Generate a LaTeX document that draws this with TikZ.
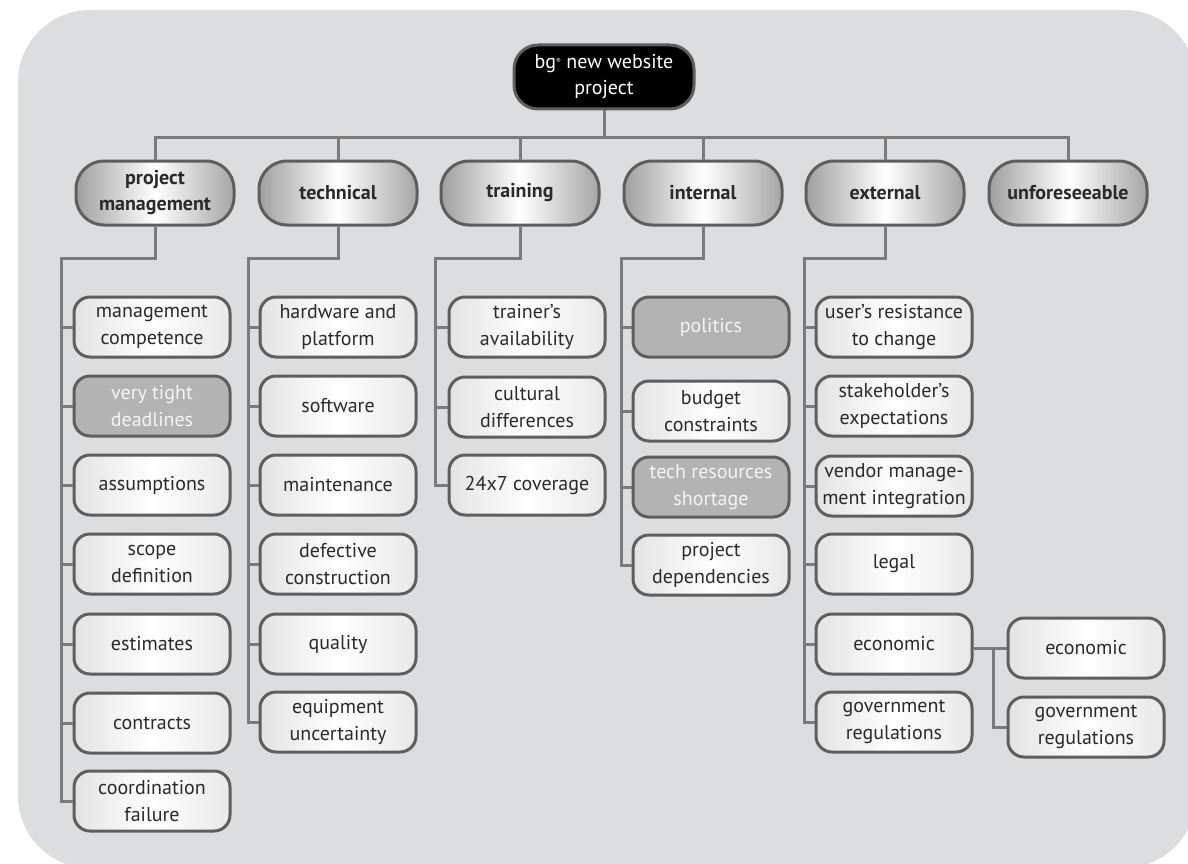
\documentclass[tikz,border=0pt]{standalone}
\usepackage{fontspec}
\setmainfont{PT Sans}
\begin{document}
\begin{tikzpicture}[x=1pt,y=-1pt,
  conn/.style={draw=linegray,line width=3pt},
  rootbox/.style={draw=rimgray,line width=3pt,fill=black,text=white,
    rounded corners=24pt,minimum width=180pt,minimum height=64pt,
    align=center,inner sep=2pt,font=\fontsize{20}{26}\selectfont},
  catbox/.style={draw=rimgray,line width=3pt,rounded corners=28pt,
    left color=gray!75,right color=gray!70,middle color=white,
    minimum width=158pt,minimum height=64pt,align=center,inner sep=2pt,
    text=txtgray,font=\bfseries\fontsize{20}{26}\selectfont},
  itembox/.style={draw=rimgray,line width=3pt,rounded corners=16pt,
    left color=gray!22,right color=gray!18,middle color=white,
    minimum width=156pt,minimum height=60pt,align=center,inner sep=1pt,
    text=txtgray,font=\fontsize{20}{27}\selectfont},
  greybox/.style={itembox,left color=boxgray,right color=boxgray,
    middle color=boxgray,text=white!92!gray},
]
\definecolor{linegray}{HTML}{7A7A7A}
\definecolor{rimgray}{HTML}{5E5E5E}
\definecolor{txtgray}{HTML}{2A2A2A}
\definecolor{boxgray}{HTML}{B3B3B3}
\definecolor{panel}{HTML}{DCDDDF}

% page and panel
\useasboundingbox (0,0) rectangle (1188,864);
\fill[white] (0,0) rectangle (1188,864);
\fill[panel,rounded corners=72pt] (18,10) rectangle (1196,868);

% root and category level
\node[rootbox] (root) at (604,77) {bg\raisebox{0.55ex}{\scriptsize ®} new website\\project};

\node[catbox] (pm)  at (155,193) {project\\management};
\node[catbox] (tec) at (338,193) {technical};
\node[catbox] (trn) at (520,193) {training};
\node[catbox] (int) at (703,193) {internal};
\node[catbox] (ext) at (885,193) {external};
\node[catbox] (unf) at (1068,193) {unforeseeable};

\coordinate (bus) at (0,138);
\draw[conn] (pm.north) |- (bus -| unf.north) -- (unf.north);
\foreach \n in {root.south,tec.north,trn.north,int.north,ext.north}
  \draw[conn] (\n) -- (\n |- bus);

% project management
\node[itembox]  (pm1) at (152,327) {management\\competence};
\node[greybox]  (pm2) at (152,406) {very tight\\deadlines};
\node[itembox]  (pm3) at (152,485) {assumptions};
\node[itembox]  (pm4) at (152,564) {scope\\definition};
\node[itembox]  (pm5) at (152,644) {estimates};
\node[itembox]  (pm6) at (152,723) {contracts};
\node[itembox]  (pm7) at (152,801) {coordination\\failure};
\coordinate (pmc) at (61,258);
\draw[conn] (pm.south) |- (pmc) |- (pm7.west);
\foreach \n in {pm1,pm2,pm3,pm4,pm5,pm6}
  \draw[conn] (pmc |- \n.west) -- (\n.west);

% technical
\node[itembox] (te1) at (338,327) {hardware and\\platform};
\node[itembox] (te2) at (338,406) {software};
\node[itembox] (te3) at (338,485) {maintenance};
\node[itembox] (te4) at (338,564) {defective\\construction};
\node[itembox] (te5) at (338,644) {quality};
\node[itembox] (te6) at (338,722) {equipment\\uncertainty};
\coordinate (tec0) at (248,258);
\draw[conn] (tec.south) |- (tec0) |- (te6.west);
\foreach \n in {te1,te2,te3,te4,te5}
  \draw[conn] (tec0 |- \n.west) -- (\n.west);

% training
\node[itembox] (tr1) at (527,327) {trainer’s\\availability};
\node[itembox] (tr2) at (527,407) {cultural\\differences};
\node[itembox] (tr3) at (527,485) {24x7 coverage};
\coordinate (trc) at (435,258);
\draw[conn] (trn.south) |- (trc) |- (tr3.west);
\foreach \n in {tr1,tr2}
  \draw[conn] (trc |- \n.west) -- (\n.west);

% internal
\node[greybox] (in1) at (711,327) {politics};
\node[itembox] (in2) at (711,411) {budget\\constraints};
\node[greybox] (in3) at (711,487) {tech resources\\shortage};
\node[itembox] (in4) at (711,565) {project\\dependencies};
\coordinate (inc) at (621,258);
\draw[conn] (int.south) |- (inc) |- (in4.west);
\foreach \n in {in1,in2,in3}
  \draw[conn] (inc |- \n.west) -- (\n.west);

% external
\node[itembox] (ex1) at (894,327) {user’s resistance\\to change};
\node[itembox] (ex2) at (894,406) {stakeholder’s\\expectations};
\node[itembox] (ex3) at (894,486) {vendor manage-\\ment integration};
\node[itembox] (ex4) at (894,564) {legal};
\node[itembox] (ex5) at (894,644) {economic};
\node[itembox] (ex6) at (894,722) {government\\regulations};
\coordinate (exc) at (804,258);
\draw[conn] (ext.south) |- (exc) |- (ex6.west);
\foreach \n in {ex1,ex2,ex3,ex4,ex5}
  \draw[conn] (exc |- \n.west) -- (\n.west);

% economic sub-branch
\node[itembox] (ec1) at (1086,648) {economic};
\node[itembox] (ec2) at (1086,727) {government\\regulations};
\coordinate (ecc) at (993,648);
\draw[conn] (ex5.east |- ec1.west) -- (ec1.west);
\draw[conn] (ecc) |- (ec2.west);
\end{tikzpicture}
\end{document}
